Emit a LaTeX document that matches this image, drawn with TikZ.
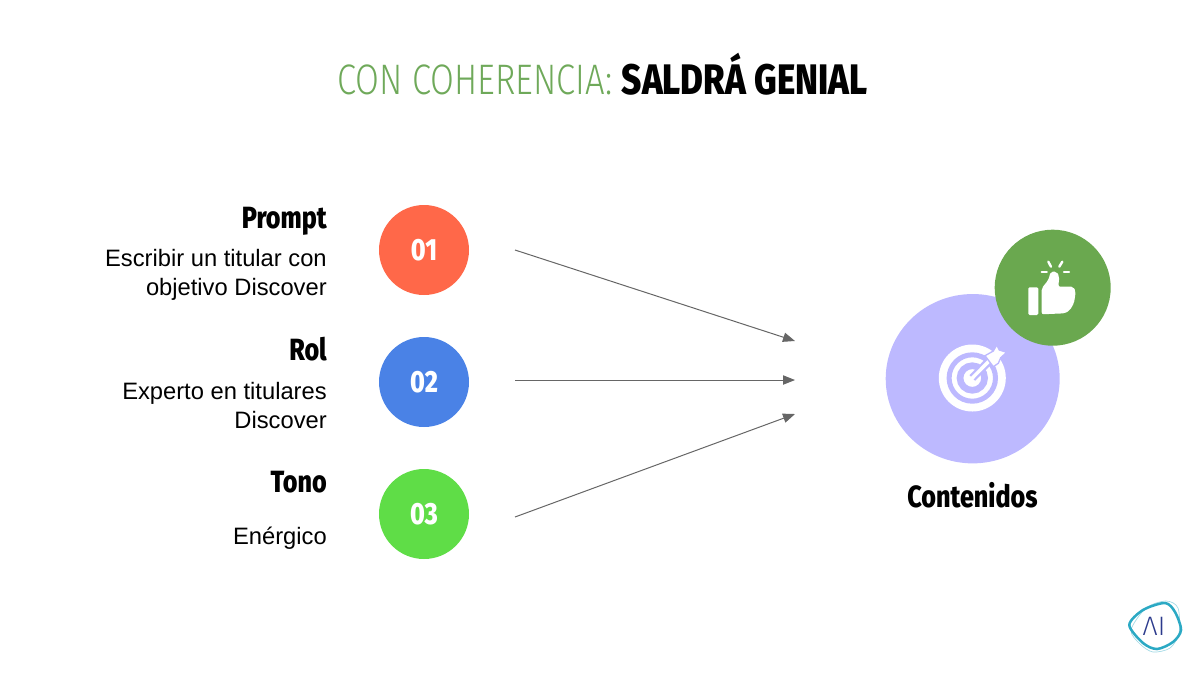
\documentclass[tikz,border=0pt]{standalone}
\usepackage{fontspec}
\usetikzlibrary{arrows.meta, shapes.geometric}
\setmainfont{Liberation Sans}
\newfontfamily\lightfont[FakeStretch=0.81]{Fira Sans Light}
\newfontfamily\heavyfont[FakeStretch=0.82]{Fira Sans ExtraBold}
\newfontfamily\logofont{Fira Sans Light}
\definecolor{titlegreen}{HTML}{6FA95A}
\definecolor{thumbgreen}{HTML}{6AA84F}
\definecolor{targetlilac}{HTML}{BDB9FF}
\definecolor{numred}{HTML}{FF6849}
\definecolor{numblue}{HTML}{4A82E6}
\definecolor{numgreen}{HTML}{5FDD47}
\definecolor{arrowgrey}{HTML}{666666}
\definecolor{logoteal}{HTML}{2BA9C4}
\definecolor{logonavy}{HTML}{2B3A8C}
\tikzset{
    num/.style={circle, inner sep=0pt, minimum size=67.5pt, text=white, font=\heavyfont\fontsize{23}{23}\selectfont},
    head/.style={anchor=base east, inner sep=0pt, font=\heavyfont\fontsize{23}{23}\selectfont},
    desc/.style={anchor=east, inner sep=0pt, align=right, font=\fontsize{17.8}{21.7}\selectfont},
    link/.style={draw=arrowgrey, line width=0.75pt, -{Triangle[length=9pt, width=7pt]}},
    ray/.style={white, line width=1.8pt, line cap=round},
}
\begin{document}
\begin{tikzpicture}[x=0.75pt, y=-0.75pt]
    \useasboundingbox (0,0) rectangle (1203,676);
    \node[anchor=base west, inner sep=0pt, text=titlegreen, font=\lightfont\fontsize{32}{32}\selectfont] (title) at (337,94) {CON COHERENCIA: {\heavyfont\color{black}SALDRÁ GENIAL}};

    \node[num, fill=numred] (n1) at (424,250) {01};
    \node[num, fill=numblue] (n2) at (424,382) {02};
    \node[num, fill=numgreen] (n3) at (424,514) {03};

    \node[head] (h1) at (327,228) {Prompt};
    \node[desc] (d1) at (327,274.5) {Escribir un titular con\\objetivo Discover};
    \node[head] (h2) at (327,360) {Rol};
    \node[desc] (d2) at (327,405.5) {Experto en titulares\\Discover};
    \node[head] (h3) at (327,492) {Tono};
    \node[desc] (d3) at (327,538.5) {Enérgico};

    \coordinate (s1) at (515,250);
    \coordinate (s2) at (515,380);
    \coordinate (s3) at (515,517);
    \coordinate (e1) at (795,341);
    \coordinate (e2) at (795,380);
    \coordinate (e3) at (795,414);
    \draw[link] (s1) -- (e1);
    \draw[link] (s2) -- (e2);
    \draw[link] (s3) -- (e3);

    % target
    \node[ellipse, inner sep=0pt, fill=targetlilac, minimum width=130.5pt, minimum height=127pt] (target) at (972.7,378.7) {};
    \coordinate (bull) at (972.3,378);
    \fill[white] (bull) circle (33.5);
    \draw[targetlilac, line width=3.75pt] (bull) circle (23.2);
    \draw[targetlilac, line width=5pt] (bull) circle (12.3);
    \draw[targetlilac, line width=6pt] (bull) -- (993,357);
    \draw[white, line width=2.6pt, line cap=round] (bull) -- (994,356);
    \filldraw[fill=white, draw=targetlilac, line width=1pt] (985,355.7) -- (993.3,351) -- (996.7,345) -- (999.3,350) -- (1006.7,352.3) -- (1000.7,357.7) -- (998.3,363.3) -- (993.3,366.7) -- cycle;

    % thumb
    \node[circle, inner sep=0pt, fill=thumbgreen, minimum size=87pt] (thumb) at (1052.7,287.7) {};
    \fill[white, rounded corners=1pt] (1028.3,287.3) rectangle (1038.3,315);
    \fill[white, rounded corners=1.5pt] (1041.7,288.3) -- (1048.3,280) -- (1050.7,271.7) -- (1056.7,271.7) -- (1059.3,276.7) -- (1058.3,286.7) -- (1073.3,286.7) -- (1075.7,291.7) -- (1075,296.7) -- (1074,303) -- (1070,310) -- (1065,313.3) -- (1041.7,314.3) -- cycle;
    \draw[ray] (1048.3,261.7) -- (1051,266.7);
    \draw[ray] (1062.3,261.7) -- (1059.3,266.7);
    \draw[ray] (1041.7,271.7) -- (1046.7,271.7);
    \draw[ray] (1064,271.7) -- (1069,271.7);

    \node[anchor=base, inner sep=0pt, font=\heavyfont\fontsize{23}{23}\selectfont] (label) at (972.5,507) {Contenidos};

    % logo
    \draw[logoteal!45, line width=0.5pt] plot[smooth cycle] coordinates {(1131,630) (1146,608) (1166,601) (1178,608) (1179,633) (1170,648) (1153,652) (1140,644)};
    \draw[logoteal, line width=1.9pt] plot[smooth cycle] coordinates {(1129.3,625) (1143,610) (1165,603) (1175,612) (1181,630) (1173,642) (1157,649) (1143,643)};
    \node[inner sep=0pt, text=logonavy, font=\logofont\fontsize{20}{20}\selectfont] (logo) at (1154,626) {ΛI};
\end{tikzpicture}
\end{document}
